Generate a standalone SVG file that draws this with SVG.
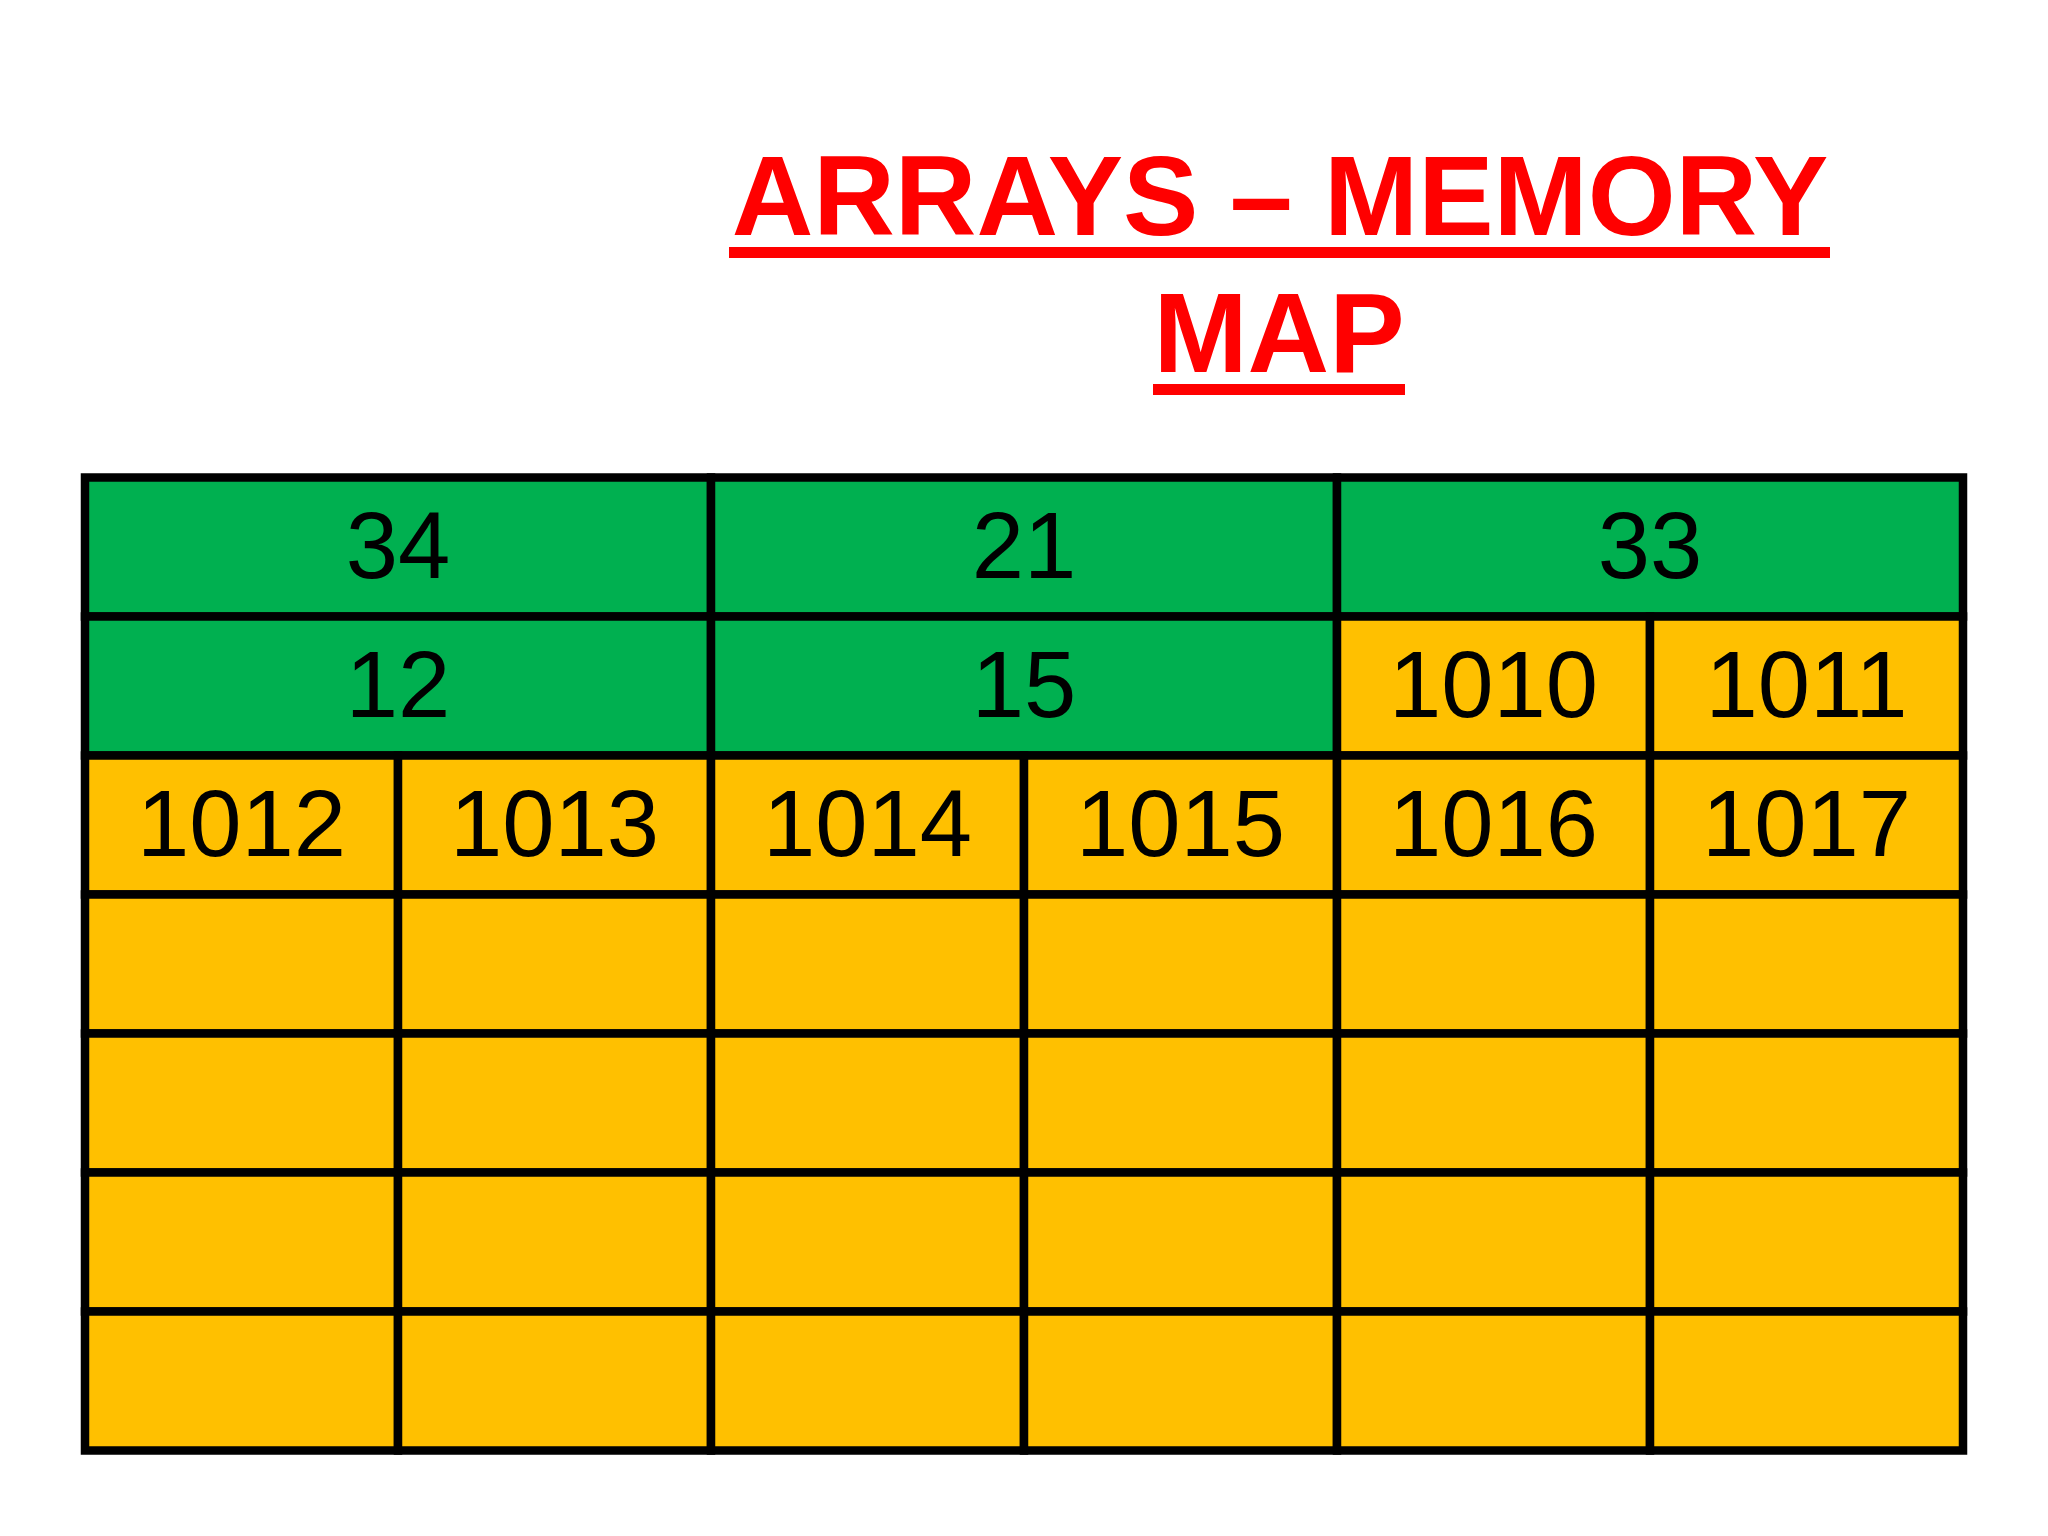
<svg xmlns="http://www.w3.org/2000/svg" width="2048" height="1536" viewBox="0 0 2048 1536">
<style>
.g{fill:#00B050;stroke:#000;stroke-width:8.5}
.o{fill:#FFC000;stroke:#000;stroke-width:8.5}
.t{font-family:"Liberation Sans",Arial,sans-serif;font-size:94px;fill:#000;text-anchor:middle}
.h{font-family:"Liberation Sans",Arial,sans-serif;font-size:113px;font-weight:bold;fill:#FF0000;text-anchor:middle}
.u{fill:#FF0000}
</style>
<rect width="2048" height="1536" fill="#fff"/>
<g id="title">
<text class="h" x="1280" y="235">ARRAYS – MEMORY</text>
<rect class="u" x="729" y="247" width="1101" height="11"/>
<text class="h" x="1279" y="372">MAP</text>
<rect class="u" x="1153" y="384" width="252" height="11"/>
</g>
<g id="r1">
<g id="c34"><rect class="g" x="85" y="477.5" width="626" height="139"/><text class="t" x="398" y="578">34</text></g>
<g id="c21"><rect class="g" x="711" y="477.5" width="626" height="139"/><text class="t" x="1024" y="578">21</text></g>
<g id="c33"><rect class="g" x="1337" y="477.5" width="626" height="139"/><text class="t" x="1650" y="578">33</text></g>
</g>
<g id="r2">
<g id="c12"><rect class="g" x="85" y="616.5" width="626" height="139"/><text class="t" x="398" y="717">12</text></g>
<g id="c15"><rect class="g" x="711" y="616.5" width="626" height="139"/><text class="t" x="1024" y="717">15</text></g>
<g id="c1010"><rect class="o" x="1337" y="616.5" width="313" height="139"/><text class="t" x="1493.5" y="717">1010</text></g>
<g id="c1011"><rect class="o" x="1650" y="616.5" width="313" height="139"/><text class="t" x="1806.5" y="717">1011</text></g>
</g>
<g id="r3">
<g id="c1012"><rect class="o" x="85" y="755.5" width="313" height="139"/><text class="t" x="241.5" y="856">1012</text></g>
<g id="c1013"><rect class="o" x="398" y="755.5" width="313" height="139"/><text class="t" x="554.5" y="856">1013</text></g>
<g id="c1014"><rect class="o" x="711" y="755.5" width="313" height="139"/><text class="t" x="867.5" y="856">1014</text></g>
<g id="c1015"><rect class="o" x="1024" y="755.5" width="313" height="139"/><text class="t" x="1180.5" y="856">1015</text></g>
<g id="c1016"><rect class="o" x="1337" y="755.5" width="313" height="139"/><text class="t" x="1493.5" y="856">1016</text></g>
<g id="c1017"><rect class="o" x="1650" y="755.5" width="313" height="139"/><text class="t" x="1806.5" y="856">1017</text></g>
</g>
<g id="r4">
<rect id="e41" class="o" x="85" y="894.5" width="313" height="139"/>
<rect id="e42" class="o" x="398" y="894.5" width="313" height="139"/>
<rect id="e43" class="o" x="711" y="894.5" width="313" height="139"/>
<rect id="e44" class="o" x="1024" y="894.5" width="313" height="139"/>
<rect id="e45" class="o" x="1337" y="894.5" width="313" height="139"/>
<rect id="e46" class="o" x="1650" y="894.5" width="313" height="139"/>
</g>
<g id="r5">
<rect id="e51" class="o" x="85" y="1033.5" width="313" height="139"/>
<rect id="e52" class="o" x="398" y="1033.5" width="313" height="139"/>
<rect id="e53" class="o" x="711" y="1033.5" width="313" height="139"/>
<rect id="e54" class="o" x="1024" y="1033.5" width="313" height="139"/>
<rect id="e55" class="o" x="1337" y="1033.5" width="313" height="139"/>
<rect id="e56" class="o" x="1650" y="1033.5" width="313" height="139"/>
</g>
<g id="r6">
<rect id="e61" class="o" x="85" y="1172.5" width="313" height="139"/>
<rect id="e62" class="o" x="398" y="1172.5" width="313" height="139"/>
<rect id="e63" class="o" x="711" y="1172.5" width="313" height="139"/>
<rect id="e64" class="o" x="1024" y="1172.5" width="313" height="139"/>
<rect id="e65" class="o" x="1337" y="1172.5" width="313" height="139"/>
<rect id="e66" class="o" x="1650" y="1172.5" width="313" height="139"/>
</g>
<g id="r7">
<rect id="e71" class="o" x="85" y="1311.5" width="313" height="139"/>
<rect id="e72" class="o" x="398" y="1311.5" width="313" height="139"/>
<rect id="e73" class="o" x="711" y="1311.5" width="313" height="139"/>
<rect id="e74" class="o" x="1024" y="1311.5" width="313" height="139"/>
<rect id="e75" class="o" x="1337" y="1311.5" width="313" height="139"/>
<rect id="e76" class="o" x="1650" y="1311.5" width="313" height="139"/>
</g>
<g id="connectors"/>
</svg>
